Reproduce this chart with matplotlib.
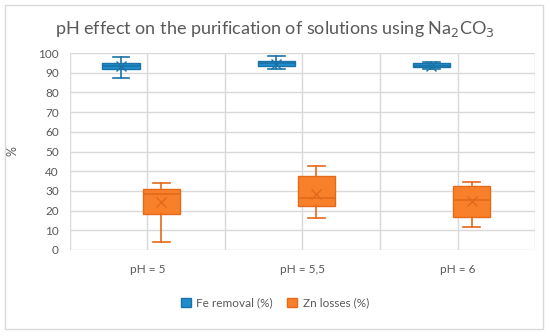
import matplotlib
matplotlib.use("Agg")
import matplotlib.pyplot as plt
from matplotlib.patches import Patch, Rectangle

plt.rcParams['font.family'] = ['Lato', 'DejaVu Sans']

# categories and box statistics
categories = ['pH = 5', 'pH = 5,5', 'pH = 6']

fe_low = [87.5, 91.7, 91.9]
fe_q1 = [91.9, 93.4, 92.7]
fe_med = [93.5, 94.8, 93.6]
fe_q3 = [95.1, 96.1, 94.8]
fe_high = [97.8, 98.6, 95.6]
fe_mean = [93.3, 94.6, 93.6]

zn_low = [3.9, 16.1, 11.8]
zn_q1 = [18.1, 22.5, 16.9]
zn_med = [28.3, 26.6, 25.4]
zn_q3 = [31.1, 37.6, 32.5]
zn_high = [33.9, 42.6, 34.5]
zn_mean = [24.2, 28.4, 24.9]

fe_face, fe_edge = '#1F8DCC', '#1A73A8'
zn_face, zn_edge = '#F9802A', '#E5691A'
text_col = '#595959'
grid_col = '#D9D9D9'


def make_stats(low, q1, med, q3, high, mean):
    return [dict(whislo=a, q1=b, med=c, q3=d, whishi=e, mean=f, fliers=[])
            for a, b, c, d, e, f in zip(low, q1, med, q3, high, mean)]


fig = plt.figure(figsize=(5.5, 3.36), dpi=100)
ax = fig.add_axes([0.127, 0.256, 0.846, 0.586])

# chart border
fig.patches.append(Rectangle((5 / 550, 7 / 336), 538 / 550, 324 / 336,
                             transform=fig.transFigure, fill=False,
                             edgecolor='#D9D9D9', linewidth=1))

x = list(range(len(categories)))
width = 0.24


def draw(stats, pos, face, edge):
    ax.bxp(stats, positions=pos, widths=width, patch_artist=True,
           showmeans=True, meanline=False, showfliers=False,
           boxprops=dict(facecolor=face, edgecolor=edge, linewidth=1),
           medianprops=dict(color=edge, linewidth=1.2),
           whiskerprops=dict(color=edge, linewidth=1.2),
           capprops=dict(color=edge, linewidth=1.2),
           capwidths=width * 0.45,
           meanprops=dict(marker='x', markeredgecolor=edge, markersize=7,
                          markeredgewidth=1))


draw(make_stats(fe_low, fe_q1, fe_med, fe_q3, fe_high, fe_mean),
     [i - 0.17 for i in x], fe_face, fe_edge)
draw(make_stats(zn_low, zn_q1, zn_med, zn_q3, zn_high, zn_mean),
     [i + 0.09 for i in x], zn_face, zn_edge)

ax.set_xlim(-0.5, len(categories) - 0.5)
ax.set_ylim(0, 100)
ax.set_yticks(range(0, 101, 10))
ax.set_xticks(x)
ax.set_xticklabels(categories)
ax.tick_params(axis='both', length=0, colors=text_col, labelsize=8.5)
ax.tick_params(axis='x', pad=10)
ax.tick_params(axis='y', pad=8)

ax.grid(axis='y', color=grid_col, linewidth=1)
for v in [-0.5, 0, 0.5, 1, 1.5, 2, 2.5]:
    ax.axvline(v, color=grid_col, linewidth=1, zorder=0)
ax.set_axisbelow(True)
for s in ax.spines.values():
    s.set_visible(False)

ax.set_ylabel('%', color=text_col, fontsize=9, labelpad=14)

fig.text(0.5, 0.913, 'pH effect on the purification of solutions using Na$_2$CO$_3$',
         ha='center', va='center', fontsize=13, color=text_col)

handles = [Patch(facecolor=fe_face, edgecolor=fe_edge, label='Fe removal (%)'),
           Patch(facecolor=zn_face, edgecolor=zn_edge, label='Zn losses (%)')]
fig.legend(handles=handles, loc='center', bbox_to_anchor=(0.5, 0.098), ncol=2,
           frameon=False, fontsize=8.5, labelcolor=text_col,
           handlelength=0.8, handleheight=0.8, columnspacing=1.2, handletextpad=0.5)

fig.savefig('out.png', dpi=100)
